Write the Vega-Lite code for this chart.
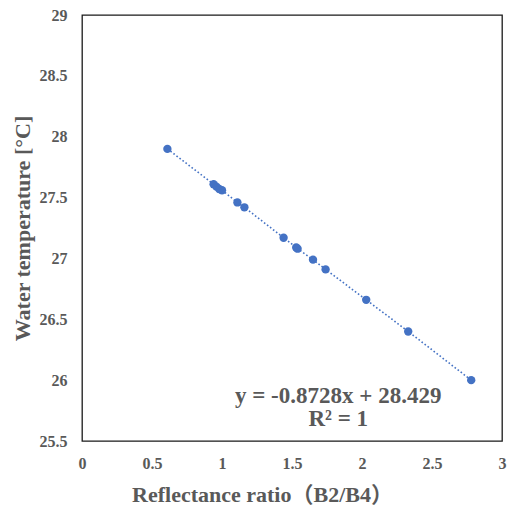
{
  "$schema": "https://vega.github.io/schema/vega-lite/v6.json",
  "width": 420,
  "height": 426,
  "autosize": {"type": "none"},
  "padding": {"left": 82, "top": 15, "right": 7, "bottom": 72},
  "background": "white",
  "config": {
    "view": {"stroke": "#1a1a1a", "strokeWidth": 1.3},
    "font": "Liberation Serif",
    "axis": {
      "grid": false,
      "ticks": false,
      "domain": false,
      "labelFlush": false,
      "labelFont": "Liberation Serif",
      "labelFontWeight": "bold",
      "labelFontSize": 16,
      "labelColor": "#595959",
      "titleFont": "Liberation Serif, Noto Sans CJK JP",
      "titleFontWeight": "bold",
      "titleFontSize": 22,
      "titleColor": "#595959"
    }
  },
  "datasets": {
    "pts": [
      {"ratio": 0.61, "temp": 27.90},
      {"ratio": 0.94, "temp": 27.61},
      {"ratio": 0.96, "temp": 27.59},
      {"ratio": 0.98, "temp": 27.57},
      {"ratio": 1.00, "temp": 27.56},
      {"ratio": 1.11, "temp": 27.46},
      {"ratio": 1.16, "temp": 27.42},
      {"ratio": 1.44, "temp": 27.17},
      {"ratio": 1.53, "temp": 27.09},
      {"ratio": 1.54, "temp": 27.08},
      {"ratio": 1.65, "temp": 26.99},
      {"ratio": 1.74, "temp": 26.91},
      {"ratio": 2.03, "temp": 26.66},
      {"ratio": 2.33, "temp": 26.40},
      {"ratio": 2.78, "temp": 26.00}
    ],
    "notes": [
      {"ratio": 1.83, "temp": 25.87, "label": "y = -0.8728x + 28.429"},
      {"ratio": 1.83, "temp": 25.68, "label": "R² = 1"}
    ]
  },
  "layer": [
    {
      "data": {"name": "pts"},
      "mark": {"type": "line", "color": "#4472C4", "strokeWidth": 1.6, "strokeDash": [1.6, 2.2]},
      "encoding": {
        "x": {"field": "ratio", "type": "quantitative",
              "scale": {"domain": [0, 3], "nice": false},
              "axis": {"values": [0, 0.5, 1, 1.5, 2, 2.5, 3], "labelExpr": "datum.value + ''", "labelPadding": 14,
                       "title": "Reflectance ratio（B2/B4）", "titleX": 180, "titleY": 53, "titleBaseline": "middle", "titleAnchor": null}},
        "y": {"field": "temp", "type": "quantitative",
              "scale": {"domain": [25.5, 29], "nice": false, "zero": false},
              "axis": {"values": [25.5, 26, 26.5, 27, 27.5, 28, 28.5, 29], "labelExpr": "datum.value + ''", "labelPadding": 15,
                       "title": "Water temperature [°C]", "titleX": -60, "titleY": 213, "titleAngle": -90, "titleAlign": "center", "titleBaseline": "middle"}}
      }
    },
    {
      "data": {"name": "pts"},
      "mark": {"type": "circle", "color": "#4472C4", "opacity": 1, "size": 70},
      "encoding": {
        "x": {"field": "ratio", "type": "quantitative"},
        "y": {"field": "temp", "type": "quantitative"}
      }
    },
    {
      "data": {"name": "notes"},
      "mark": {"type": "text", "font": "Liberation Serif", "fontWeight": "bold", "fontSize": 23, "color": "#595959", "align": "center", "baseline": "middle"},
      "encoding": {
        "x": {"field": "ratio", "type": "quantitative"},
        "y": {"field": "temp", "type": "quantitative"},
        "text": {"field": "label"}
      }
    }
  ]
}
